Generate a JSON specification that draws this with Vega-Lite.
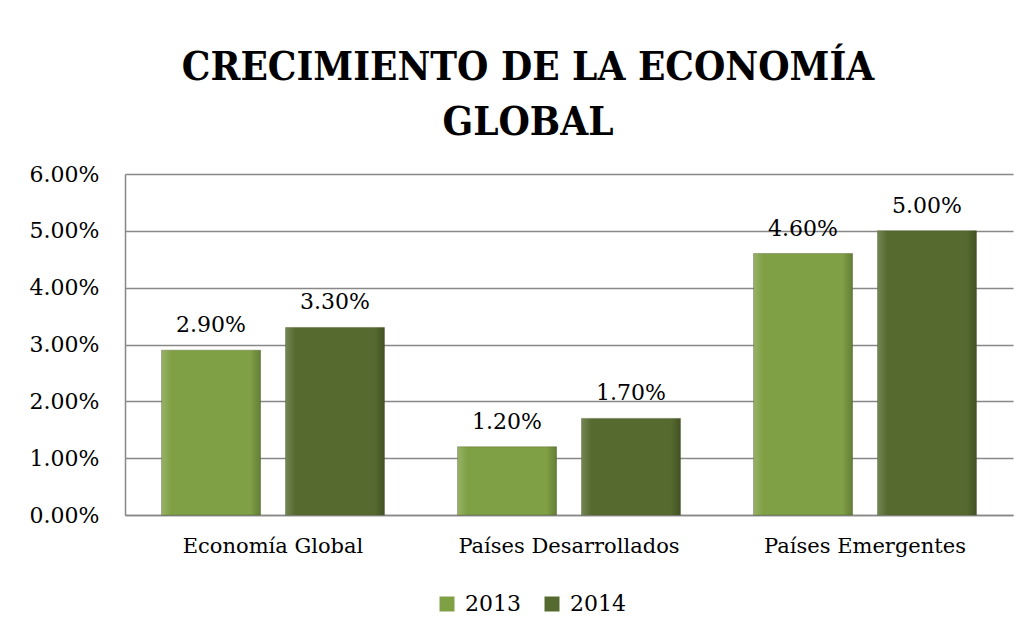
{
  "$schema": "https://vega.github.io/schema/vega-lite/v6.json",
  "width": 888,
  "height": 341,
  "autosize": {"type": "none"},
  "padding": {"left": 125, "top": 174, "right": 11, "bottom": 124},
  "background": "white",
  "title": {
    "text": ["CRECIMIENTO DE LA ECONOMÍA", "GLOBAL"],
    "font": "DejaVu Serif Condensed",
    "fontSize": 40,
    "fontWeight": "bold",
    "anchor": "middle",
    "dx": -41,
    "offset": 20,
    "lineHeight": 55,
    "color": "black"
  },
  "data": {
    "values": [
      {"region": "Economía Global", "year": "2013", "value": 0.029},
      {"region": "Economía Global", "year": "2014", "value": 0.033},
      {"region": "Países Desarrollados", "year": "2013", "value": 0.012},
      {"region": "Países Desarrollados", "year": "2014", "value": 0.017},
      {"region": "Países Emergentes", "year": "2013", "value": 0.046},
      {"region": "Países Emergentes", "year": "2014", "value": 0.050}
    ]
  },
  "encoding": {
    "x": {
      "field": "region",
      "type": "nominal",
      "sort": ["Economía Global", "Países Desarrollados", "Países Emergentes"],
      "scale": {"paddingInner": 0.247, "paddingOuter": 0.1235},
      "axis": {
        "title": null,
        "labelAngle": 0,
        "labelFont": "DejaVu Serif",
        "labelFontSize": 21,
        "labelColor": "black",
        "labelPadding": 20,
        "labelLimit": 0,
        "ticks": false,
        "domainColor": "#888888",
        "domainWidth": 1.5
      }
    },
    "xOffset": {
      "field": "year",
      "type": "nominal",
      "scale": {"paddingInner": 0.2016, "paddingOuter": 0}
    },
    "y": {
      "field": "value",
      "type": "quantitative",
      "scale": {"domain": [0, 0.06], "nice": false},
      "axis": {
        "title": null,
        "format": ".2%",
        "values": [0, 0.01, 0.02, 0.03, 0.04, 0.05, 0.06],
        "labelFont": "DejaVu Serif",
        "labelFontSize": 22,
        "labelColor": "black",
        "labelPadding": 26,
        "labelLimit": 0,
        "ticks": false,
        "gridColor": "#888888",
        "gridWidth": 1.5,
        "domainColor": "#888888",
        "domainWidth": 1.5
      }
    }
  },
  "layer": [
    {
      "mark": {"type": "bar", "stroke": "#4a5a26", "strokeWidth": 1, "strokeOpacity": 0.4},
      "encoding": {
        "color": {
          "field": "year",
          "type": "nominal",
          "scale": {"domain": ["2013", "2014"], "range": ["#80A045", "#566A2F"]},
          "legend": {
            "title": null,
            "orient": "none",
            "direction": "horizontal",
            "legendX": 311,
            "legendY": 419,
            "symbolType": "square",
            "symbolSize": 225,
            "symbolStrokeWidth": 0,
            "labelFont": "DejaVu Serif",
            "labelFontSize": 22,
            "labelColor": "black",
            "columnPadding": 20,
            "labelOffset": 7
          }
        }
      }
    },
    {
      "mark": {
        "type": "bar",
        "fill": {
          "gradient": "linear",
          "x1": 0, "y1": 0, "x2": 1, "y2": 0,
          "stops": [
            {"offset": 0, "color": "rgba(255,255,255,0.18)"},
            {"offset": 0.1, "color": "rgba(255,255,255,0)"},
            {"offset": 0.9, "color": "rgba(0,0,0,0)"},
            {"offset": 1, "color": "rgba(0,0,0,0.22)"}
          ]
        }
      }
    },
    {
      "mark": {
        "type": "text",
        "font": "DejaVu Serif",
        "fontSize": 22,
        "color": "black",
        "baseline": "middle",
        "dy": -25
      },
      "encoding": {
        "text": {"field": "value", "type": "quantitative", "format": ".2%"}
      }
    }
  ],
  "config": {"view": {"stroke": null}}
}
